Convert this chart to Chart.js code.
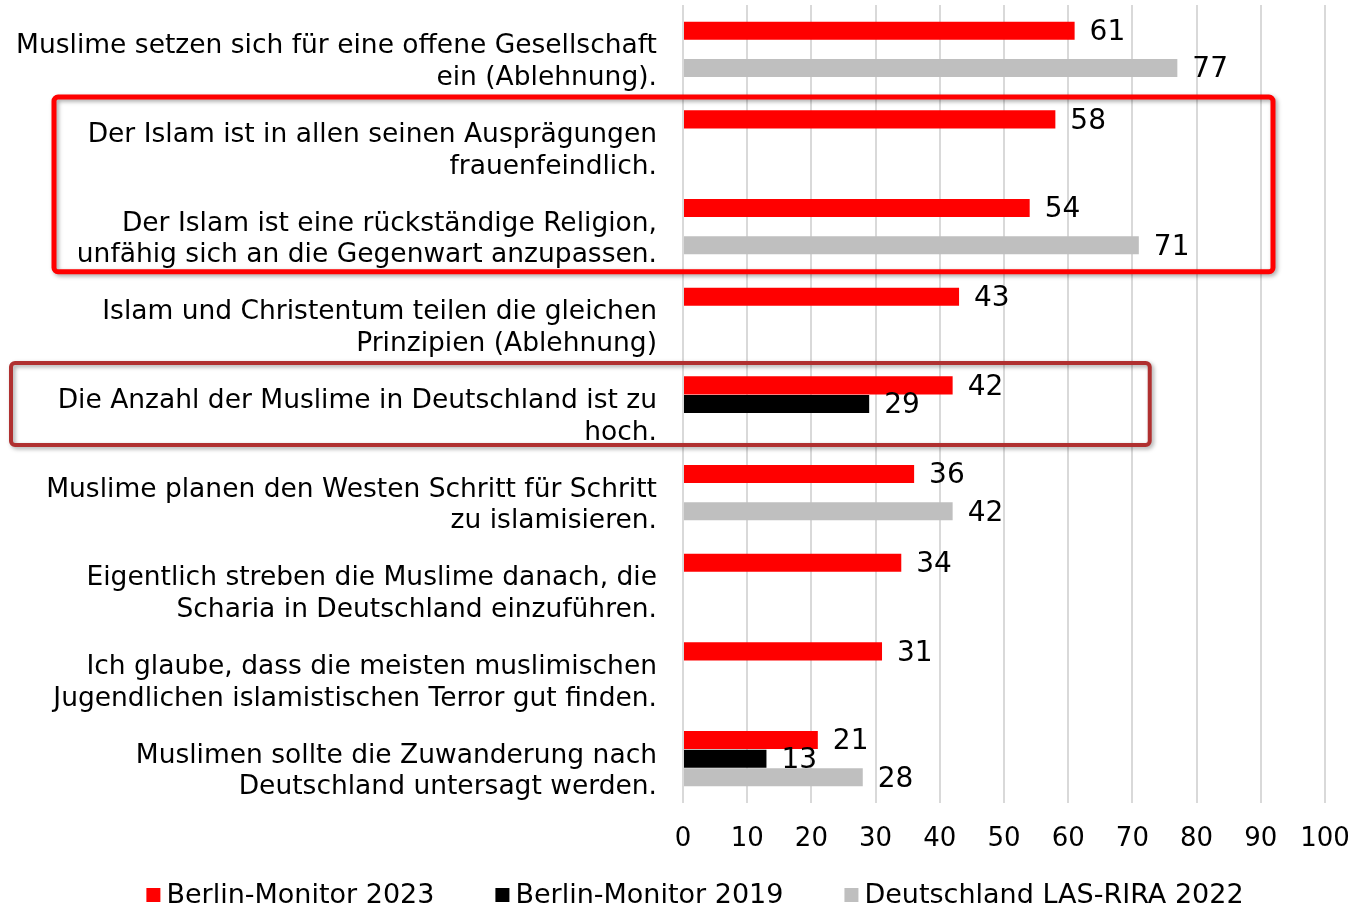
<!DOCTYPE html>
<html>
<head>
<meta charset="utf-8">
<script src="https://cdn.jsdelivr.net/npm/chart.js@4"></script>
<style>
    html, body { margin: 0; padding: 0; background: #fff; }
    #wrap { width: 1353px; height: 906px; }
</style>
</head>
<body>
<div id="wrap"><canvas id="rassismusChart"></canvas></div>
<script>
const categories = [
    ['Muslime setzen sich für eine offene Gesellschaft', 'ein (Ablehnung).'],
    ['Der Islam ist in allen seinen Ausprägungen', 'frauenfeindlich.'],
    ['Der Islam ist eine rückständige Religion,', 'unfähig sich an die Gegenwart anzupassen.'],
    ['Islam und Christentum teilen die gleichen', 'Prinzipien (Ablehnung)'],
    ['Die Anzahl der Muslime in Deutschland ist zu', 'hoch.'],
    ['Muslime planen den Westen Schritt für Schritt', 'zu islamisieren.'],
    ['Eigentlich streben die Muslime danach, die', 'Scharia in Deutschland einzuführen.'],
    ['Ich glaube, dass die meisten muslimischen', 'Jugendlichen islamistischen Terror gut finden.'],
    ['Muslimen sollte die Zuwanderung nach', 'Deutschland untersagt werden.']
]
const berlin2023 = [61, 58, 54, 43, 42, 36, 34, 31, 21]
const berlin2019 = [null, null, null, null, 29, null, null, null, 13]
const lasRira2022 = [77, null, 71, null, null, 42, null, null, 28]
const seriesNames = ['Berlin-Monitor 2023', 'Berlin-Monitor 2019', 'Deutschland LAS-RIRA 2022']
const xTicks = [0, 10, 20, 30, 40, 50, 60, 70, 80, 90, 100]

const FONT = "'DejaVu Sans', Verdana, sans-serif"

// number next to each bar
const valueLabels = {
    id: 'valueLabels',
    afterDatasetsDraw(chart) {
        const ctx = chart.ctx
        ctx.save()
        ctx.font = `28px ${FONT}`
        ctx.fillStyle = '#000'
        ctx.textAlign = 'left'
        ctx.textBaseline = 'middle'
        chart.data.datasets.forEach((ds, di) => {
            chart.getDatasetMeta(di).data.forEach((bar, i) => {
                if (ds.data[i] === null) return
                ctx.fillText(ds.data[i], bar.x + 15, bar.y + 2)
            })
        })
        ctx.restore()
    }
}

// the two highlight frames
const frames = {
    id: 'frames',
    afterDraw(chart) {
        const ctx = chart.ctx
        const x = chart.scales.x
        const y = chart.scales.y
        const drawFrame = (left, top, right, bottom, color, width) => {
            ctx.save()
            ctx.shadowColor = 'rgba(0,0,0,0.35)'
            ctx.shadowBlur = 4
            ctx.shadowOffsetX = 2
            ctx.shadowOffsetY = 2
            ctx.strokeStyle = color
            ctx.lineWidth = width
            ctx.beginPath()
            ctx.roundRect(left, top, right - left, bottom - top, 4)
            ctx.stroke()
            ctx.restore()
        }
        drawFrame(54, y.getPixelForValue(1) - 41, x.getPixelForValue(91.9), y.getPixelForValue(2) + 45, '#ff0000', 5)
        drawFrame(11, y.getPixelForValue(4) - 41, x.getPixelForValue(72.7), y.getPixelForValue(4) + 41, '#b03030', 4)
    }
}

// legend at the bottom, small squares close to the text
const bottomLegend = {
    id: 'bottomLegend',
    afterDraw(chart) {
        const ctx = chart.ctx
        ctx.save()
        ctx.font = `27px ${FONT}`
        ctx.textAlign = 'left'
        ctx.textBaseline = 'middle'
        const box = 14
        const gap = 6
        const spacing = 61
        const items = chart.data.datasets.map(ds => ({
            text: ds.label,
            color: ds.backgroundColor,
            w: box + gap + ctx.measureText(ds.label).width
        }))
        const total = items.reduce((s, it) => s + it.w, 0) + spacing * (items.length - 1)
        let cx = 695 - total / 2
        const cy = 895
        items.forEach(it => {
            ctx.fillStyle = it.color
            ctx.fillRect(cx, cy - box / 2, box, box)
            ctx.fillStyle = '#000'
            ctx.fillText(it.text, cx + box + gap, cy + 1)
            cx += it.w + spacing
        })
        ctx.restore()
    }
}

const chartEl = document.getElementById('rassismusChart')
const rassismusChart = new Chart(chartEl, {
    type: 'bar',
    data: {
        labels: categories,
        datasets: [{
            label: seriesNames[0],
            data: berlin2023,
            backgroundColor: '#ff0000'
        }, {
            label: seriesNames[1],
            data: berlin2019,
            backgroundColor: '#000000'
        }, {
            label: seriesNames[2],
            data: lasRira2022,
            backgroundColor: '#bfbfbf'
        }]
    },
    options: {
        indexAxis: 'y',
        responsive: true,
        maintainAspectRatio: false,
        animation: false,
        datasets: {
            bar: {
                categoryPercentage: 0.63,
                barPercentage: 0.97
            }
        },
        layout: {
            padding: { top: 5, right: 28, left: 0, bottom: 53 }
        },
        scales: {
            x: {
                min: 0,
                max: 100,
                afterBuildTicks: (scale) => {
                    scale.ticks = xTicks.map(v => ({ value: v }))
                },
                afterFit: (scale) => {
                    scale.height = 50
                    scale.paddingLeft = 0
                    scale.paddingRight = 0
                },
                grid: {
                    color: '#d9d9d9',
                    lineWidth: 2,
                    drawTicks: false
                },
                border: { display: false },
                ticks: {
                    color: '#000',
                    padding: 21,
                    maxRotation: 0,
                    font: { family: FONT, size: 26 }
                }
            },
            y: {
                grid: { display: false, drawTicks: false },
                border: { display: false },
                afterFit: (scale) => {
                    scale.width = 683
                    scale.paddingTop = 0
                    scale.paddingBottom = 0
                },
                ticks: {
                    color: '#000',
                    padding: 26,
                    labelOffset: 13,
                    font: { family: FONT, size: 26.5, lineHeight: 1.2 }
                }
            }
        },
        plugins: {
            legend: { display: false },
            tooltip: { enabled: false }
        }
    },
    plugins: [valueLabels, frames, bottomLegend]
})
</script>
</body>
</html>
